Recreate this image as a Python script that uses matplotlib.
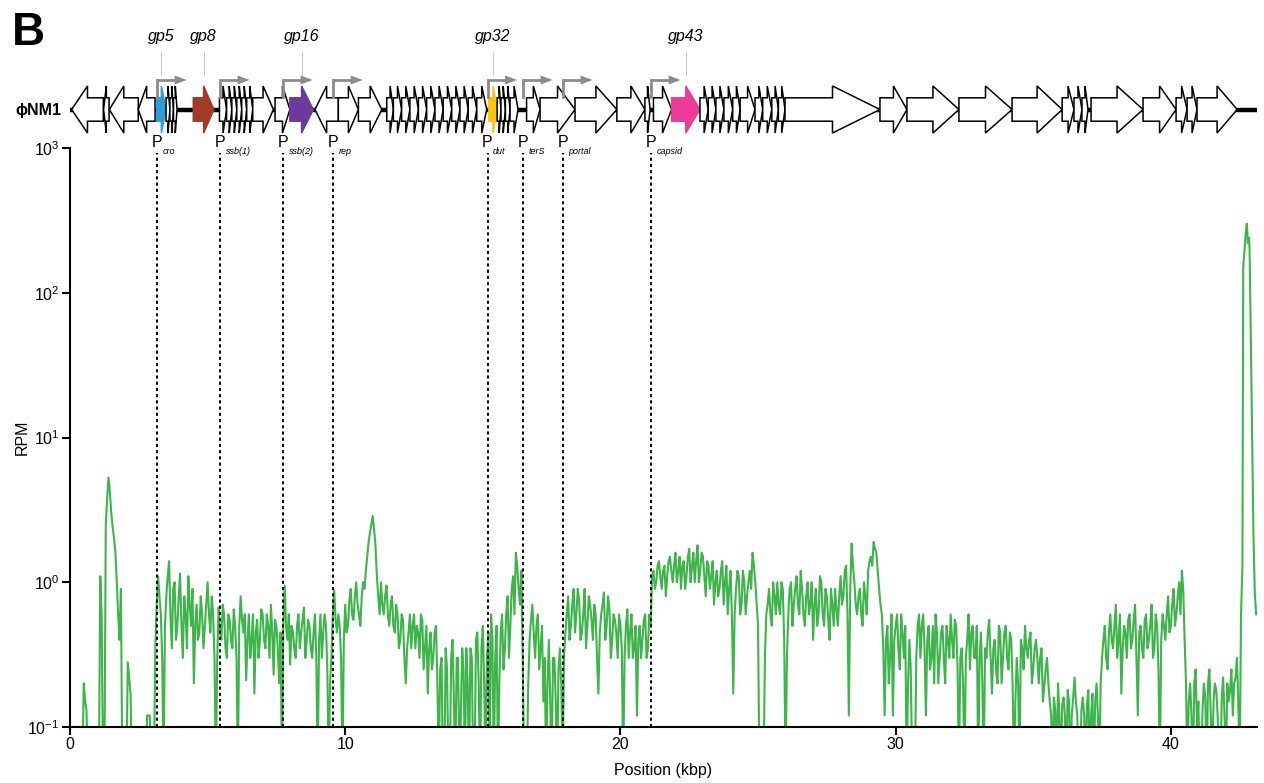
import numpy as np
import matplotlib
matplotlib.use("Agg")
import matplotlib.pyplot as plt
from matplotlib.patches import Polygon
from matplotlib.ticker import FixedLocator, NullLocator, LogFormatterMathtext

plt.rcParams['font.family'] = ['Liberation Sans', 'DejaVu Sans']
plt.rcParams['mathtext.fontset'] = 'custom'
plt.rcParams['mathtext.rm'] = 'Liberation Sans'
plt.rcParams['mathtext.it'] = 'Liberation Sans:italic'
plt.rcParams['mathtext.bf'] = 'Liberation Sans:bold'

GENOME_KBP = 43.13

# ---- read coverage (RPM) on 0.1 kbp bins, 0.0 .. 42.5 kbp ----
rpm_grid = [
    0.05, 0.05, 0.05, 0.05, 0.05, 0.2, 0.13, 0.05, 0.05, 0.05,      # 0.0
    0.05, 1.1, 0.05, 2.5, 5.3, 3.0, 2.0, 1.0, 0.4, 0.05,            # 1.0
    0.05, 0.28, 0.17, 0.05, 0.05, 0.05, 0.05, 0.05, 0.12, 0.12,     # 2.0
    0.05, 0.36, 1.1, 0.6, 0.05, 0.8, 1.4, 0.35, 1.0, 0.5,           # 3.0
    1.15, 0.3, 0.6, 1.1, 0.5, 0.2, 0.7, 0.45, 0.6, 0.5,             # 4.0
    1.0, 0.45, 0.6, 0.05, 0.67, 0.4, 0.6, 0.3, 0.55, 0.35,          # 5.0
    0.5, 0.05, 0.8, 0.45, 0.21, 0.6, 0.4, 0.17, 0.55, 0.4,          # 6.0
    0.6, 0.35, 0.5, 0.7, 0.23, 0.5, 0.2, 0.05, 0.95, 0.4,           # 7.0
    0.27, 0.45, 0.3, 0.6, 0.45, 0.67, 0.4, 0.5, 0.3, 0.6,           # 8.0
    0.05, 0.6, 0.45, 0.5, 0.05, 0.3, 0.88, 0.45, 0.5, 0.05,         # 9.0
    0.7, 0.5, 0.9, 0.55, 1.0, 0.6, 0.8, 0.9, 1.5, 2.2,              # 10.0
    2.87, 1.8, 0.8, 1.0, 0.6, 0.95, 0.5, 0.8, 0.45, 0.6,            # 11.0
    0.4, 0.55, 0.2, 0.45, 0.35, 0.6, 0.5, 0.3, 0.55, 0.35,          # 12.0
    0.17, 0.45, 0.3, 0.5, 0.05, 0.3, 0.05, 0.25, 0.05, 0.4,         # 13.0
    0.05, 0.3, 0.12, 0.25, 0.35, 0.05, 0.3, 0.05, 0.45, 0.05,       # 14.0
    0.5, 0.05, 0.45, 0.6, 0.05, 0.5, 0.2, 0.6, 0.35, 0.8,           # 15.0
    0.5, 1.1, 1.6, 0.9, 1.2, 0.05, 0.05, 0.4, 0.7, 0.3,             # 16.0
    0.6, 0.35, 0.15, 0.05, 0.4, 0.05, 0.3, 0.05, 0.35, 0.05,        # 17.0
    0.45, 0.8, 0.5, 0.9, 0.6, 0.75, 0.45, 0.9, 0.5, 0.7,            # 18.0
    0.4, 0.6, 0.17, 0.6, 0.85, 0.5, 0.65, 0.4, 0.55, 0.3,           # 19.0
    0.5, 0.05, 0.5, 0.3, 0.6, 0.35, 0.12, 0.5, 0.4, 0.6,            # 20.0
    0.35, 0.5, 1.2, 1.0, 1.4, 0.9, 1.3, 1.1, 1.5, 1.0,              # 21.0
    1.6, 1.2, 0.9, 1.4, 1.1, 1.7, 1.3, 1.0, 1.8, 1.2,               # 22.0
    1.5, 0.8, 1.3, 1.1, 0.7, 1.2, 0.9, 1.4, 1.0, 0.6,               # 23.0
    1.2, 0.17, 0.9, 1.1, 0.7, 1.0, 0.8, 1.2, 1.6, 1.0,              # 24.0
    0.5, 0.05, 0.05, 0.6, 0.9, 0.5, 0.8, 1.0, 0.6, 0.9,             # 25.0
    0.05, 0.6, 1.0, 0.7, 1.1, 0.6, 0.9, 0.5, 1.0, 0.7,              # 26.0
    0.4, 0.9, 0.6, 1.0, 0.5, 0.8, 0.4, 0.7, 0.9, 0.5,               # 27.0
    1.1, 0.8, 1.3, 0.12, 1.85, 1.0, 0.6, 0.9, 0.5, 0.8,             # 28.0
    1.2, 1.5, 1.9, 1.6, 0.9, 0.6, 0.12, 0.5, 0.3, 0.12,             # 29.0
    0.5, 0.35, 0.6, 0.3, 0.05, 0.4, 0.05, 0.05, 0.5, 0.3,           # 30.0
    0.6, 0.12, 0.5, 0.3, 0.2, 0.45, 0.3, 0.5, 0.2, 0.4,             # 31.0
    0.6, 0.3, 0.5, 0.05, 0.35, 0.05, 0.4, 0.25, 0.5, 0.3,           # 32.0
    0.05, 0.45, 0.05, 0.3, 0.55, 0.17, 0.4, 0.2, 0.45, 0.3,         # 33.0
    0.5, 0.25, 0.4, 0.05, 0.3, 0.05, 0.35, 0.5, 0.3, 0.45,          # 34.0
    0.25, 0.4, 0.2, 0.35, 0.19, 0.3, 0.15, 0.05, 0.13, 0.2,         # 35.0
    0.05, 0.16, 0.05, 0.15, 0.12, 0.22, 0.12, 0.05, 0.16, 0.05,     # 36.0
    0.18, 0.12, 0.05, 0.2, 0.05, 0.3, 0.5, 0.25, 0.6, 0.35,         # 37.0
    0.7, 0.4, 0.17, 0.5, 0.3, 0.6, 0.4, 0.7, 0.12, 0.5,             # 38.0
    0.3, 0.6, 0.4, 0.7, 0.35, 0.5, 0.05, 0.6, 0.4, 0.8,             # 39.0
    0.5, 0.9, 0.6, 1.0, 1.2, 0.4, 0.05, 0.2, 0.05, 0.25,            # 40.0
    0.15, 0.05, 0.2, 0.05, 0.25, 0.05, 0.2, 0.12, 0.05, 0.22,       # 41.0
    0.05, 0.15, 0.25, 0.2, 0.3, 0.05,                               # 42.0
]

# ---- read coverage at bin midpoints, 0.05 .. 42.45 kbp ----
rpm_mid = [
    0.05, 0.05, 0.05, 0.05, 0.05, 0.15, 0.05, 0.05, 0.05, 0.05,     # 0.05
    0.05, 0.6, 0.05, 3.8, 4.2, 2.4, 1.6, 0.6, 0.9, 0.05,            # 1.05
    0.05, 0.22, 0.05, 0.05, 0.05, 0.05, 0.05, 0.05, 0.12, 0.05,     # 2.05
    0.05, 0.7, 0.8, 0.3, 0.5, 1.1, 0.6, 0.9, 0.4, 0.8,              # 3.05
    0.5, 0.8, 0.35, 0.7, 0.9, 0.5, 0.4, 0.8, 0.35, 0.7,             # 4.05
    0.6, 0.8, 0.3, 0.3, 0.45, 0.7, 0.35, 0.6, 0.4, 0.65,            # 5.05
    0.3, 0.5, 0.55, 0.6, 0.4, 0.3, 0.6, 0.45, 0.3, 0.65,            # 6.05
    0.4, 0.6, 0.3, 0.45, 0.55, 0.35, 0.45, 0.5, 0.5, 0.6,           # 7.05
    0.5, 0.35, 0.5, 0.35, 0.55, 0.3, 0.55, 0.35, 0.45, 0.3,         # 8.05
    0.4, 0.3, 0.6, 0.25, 0.2, 0.6, 0.55, 0.6, 0.3, 0.4,             # 9.05
    0.45, 0.75, 0.6, 0.8, 0.7, 0.5, 1.0, 1.2, 1.9, 2.5,             # 10.05
    2.3, 1.1, 0.6, 0.7, 0.8, 0.6, 0.7, 0.5, 0.7, 0.35,              # 11.05
    0.6, 0.3, 0.35, 0.6, 0.5, 0.35, 0.45, 0.6, 0.25, 0.5,           # 12.05
    0.35, 0.25, 0.45, 0.2, 0.25, 0.05, 0.35, 0.05, 0.3, 0.15,       # 13.05
    0.3, 0.05, 0.35, 0.05, 0.2, 0.35, 0.05, 0.4, 0.2, 0.35,         # 14.05
    0.2, 0.3, 0.05, 0.4, 0.3, 0.05, 0.45, 0.25, 0.6, 0.3,           # 15.05
    0.9, 0.6, 1.3, 0.7, 0.3, 0.05, 0.2, 0.55, 0.45, 0.5,            # 16.05
    0.25, 0.5, 0.3, 0.2, 0.15, 0.3, 0.15, 0.25, 0.2, 0.3,           # 17.05
    0.6, 0.4, 0.7, 0.45, 0.9, 0.4, 0.6, 0.35, 0.8, 0.55,            # 18.05
    0.7, 0.3, 0.45, 0.7, 0.4, 0.8, 0.3, 0.6, 0.45, 0.6,             # 19.05
    0.35, 0.3, 0.65, 0.45, 0.3, 0.5, 0.4, 0.3, 0.55, 0.3,           # 20.05
    0.6, 1.1, 0.9, 1.3, 1.1, 1.2, 0.8, 1.4, 1.2, 1.3,               # 21.05
    1.0, 1.5, 1.3, 0.9, 1.5, 1.0, 1.6, 1.4, 1.0, 1.6,               # 22.05
    1.1, 1.4, 0.9, 1.4, 1.0, 0.8, 1.2, 0.7, 1.3, 0.9,               # 23.05
    0.6, 0.6, 1.2, 0.6, 1.2, 0.6, 1.0, 0.9, 1.3, 0.7,               # 24.05
    0.05, 0.05, 0.3, 0.7, 0.6, 1.0, 0.6, 0.7, 1.0, 0.4,             # 25.05
    0.3, 0.9, 0.5, 0.9, 0.7, 1.2, 0.6, 0.8, 0.6, 1.0,               # 26.05
    0.7, 0.5, 1.1, 0.6, 0.9, 0.55, 0.9, 0.5, 0.65, 0.8,             # 27.05
    0.7, 1.2, 0.6, 0.9, 1.3, 0.7, 0.8, 0.6, 1.0, 0.6,               # 28.05
    1.4, 1.3, 1.7, 1.2, 0.7, 0.35, 0.4, 0.2, 0.6, 0.4,              # 29.05
    0.6, 0.25, 0.45, 0.5, 0.2, 0.25, 0.05, 0.3, 0.6, 0.5,           # 30.05
    0.35, 0.4, 0.25, 0.5, 0.6, 0.2, 0.45, 0.3, 0.5, 0.3,            # 31.05
    0.4, 0.55, 0.25, 0.3, 0.2, 0.3, 0.6, 0.45, 0.3, 0.5,            # 32.05
    0.3, 0.2, 0.35, 0.45, 0.3, 0.35, 0.25, 0.5, 0.2, 0.45,          # 33.05
    0.3, 0.45, 0.2, 0.15, 0.2, 0.4, 0.25, 0.35, 0.4, 0.2,           # 34.05
    0.35, 0.3, 0.3, 0.15, 0.25, 0.2, 0.12, 0.16, 0.05, 0.12,        # 35.05
    0.14, 0.12, 0.18, 0.05, 0.16, 0.15, 0.05, 0.13, 0.12, 0.14,     # 36.05
    0.05, 0.17, 0.15, 0.12, 0.2, 0.4, 0.3, 0.45, 0.4, 0.5,          # 37.05
    0.3, 0.6, 0.35, 0.45, 0.55, 0.35, 0.55, 0.3, 0.45, 0.35,        # 38.05
    0.55, 0.35, 0.5, 0.3, 0.6, 0.25, 0.4, 0.5, 0.6, 0.45,           # 39.05
    0.7, 0.5, 0.8, 0.6, 0.9, 0.2, 0.15, 0.12, 0.2, 0.1,             # 40.05
    0.05, 0.13, 0.16, 0.2, 0.12, 0.15, 0.18, 0.05, 0.16, 0.12,      # 41.05
    0.2, 0.18, 0.12, 0.22, 0.15,                                    # 42.05
]

# terminal peak, sampled more finely
pos_tail = [42.55, 42.6, 42.63, 42.68, 42.72, 42.76, 42.8, 42.84,
            42.86, 42.9, 42.95, 43.0, 43.05, 43.1]
rpm_tail = [0.6, 1.3, 150, 200, 260, 300, 220, 240,
            200, 58, 10.7, 2.2, 0.84, 0.6]

pos_grid = np.round(np.arange(len(rpm_grid)) * 0.1, 2)
pos_mid = np.round(np.arange(len(rpm_mid)) * 0.1 + 0.05, 2)
position = np.concatenate([pos_grid, pos_mid, pos_tail])
rpm = np.concatenate([rpm_grid, rpm_mid, rpm_tail])
order = np.argsort(position, kind='stable')
position, rpm = position[order], rpm[order]

# ---- genome map ----
gene_start = [0.06, 1.22, 1.43, 2.48, 3.15, 3.49, 3.63, 3.76, 4.48,
              5.43, 5.69, 5.88, 6.06, 6.24, 6.42, 6.64, 7.45, 7.99,
              8.90, 9.75, 10.48,
              11.51, 11.75, 12.05, 12.35, 12.66, 12.96, 13.26, 13.56, 13.87,
              14.17, 14.47, 14.78,
              15.22, 15.52, 15.66, 15.82, 15.99,
              16.59, 17.08, 18.35, 19.87, 20.89, 21.20, 21.86,
              22.89, 23.19, 23.47, 23.76, 24.08, 24.35, 24.89, 25.17, 25.50, 25.74,
              25.98, 29.43, 30.41, 32.30, 34.23, 36.05, 36.48, 36.77,
              37.10, 38.99, 40.19, 40.59, 40.95]
gene_end = [1.21, 1.42, 2.48, 3.09, 3.49, 3.63, 3.76, 3.89, 5.23,
            5.69, 5.88, 6.06, 6.24, 6.42, 6.64, 7.39, 7.99, 8.84,
            9.75, 10.48, 11.33,
            11.75, 12.05, 12.35, 12.66, 12.96, 13.26, 13.56, 13.87, 14.17,
            14.47, 14.78, 15.14,
            15.52, 15.66, 15.82, 15.99, 16.28,
            17.08, 18.35, 19.87, 20.89, 21.08, 21.86, 22.89,
            23.19, 23.47, 23.76, 24.08, 24.35, 24.89, 25.17, 25.50, 25.74, 25.98,
            29.43, 30.41, 32.30, 34.23, 36.05, 36.48, 36.77, 36.99,
            38.99, 40.19, 40.59, 40.95, 42.41]
gene_strand = [-1, -1, -1, -1] + [1] * 14 + [-1] + [1] * (len(gene_start) - 19)

highlight_index = [4, 8, 17, 33, 44]
highlight_name = ['gp5', 'gp8', 'gp16', 'gp32', 'gp43']
highlight_color = ['#2e9cd7', '#a33b22', '#6b3a9c', '#ffc20e', '#ec3c98']

promoter_pos = [3.16, 5.45, 7.74, 9.56, 15.17, 16.46, 17.91, 21.11]
promoter_name = ['cro', 'ssb(1)', 'ssb(2)', 'rep', 'dut', 'terS', 'portal', 'capsid']

GREEN = '#3db54a'
GRAY_ARROW = '#8c8c8c'

fig = plt.figure(figsize=(12.64, 7.83), dpi=100)
W, H = 1264.0, 783.0

# main coverage axes
ax = fig.add_axes([70 / W, (H - 727) / H, (1257 - 70) / W, (727 - 148) / H])
ax.plot(position, rpm, color=GREEN, lw=1.5, zorder=3)
ax.set_yscale('log')
ax.set_ylim(0.1, 1000)
ax.set_xlim(0, GENOME_KBP)
ax.yaxis.set_major_locator(FixedLocator([0.1, 1, 10, 100, 1000]))
ax.yaxis.set_major_formatter(LogFormatterMathtext())
ax.yaxis.set_minor_locator(NullLocator())
ax.xaxis.set_major_locator(FixedLocator([0, 10, 20, 30, 40]))
for s in ['top', 'right']:
    ax.spines[s].set_visible(False)
for s in ['left', 'bottom']:
    ax.spines[s].set_linewidth(1.5)
    ax.spines[s].set_zorder(5)
ax.tick_params(axis='both', which='major', direction='out', length=5.5,
               width=1.5, labelsize=11.5, pad=2, colors='black')
ax.set_xlabel('Position (kbp)', fontsize=11.5)
ax.set_ylabel('RPM', fontsize=11.5)
ax.xaxis.set_label_coords(0.5, -(770 - 727) / 579.0)
ax.yaxis.set_label_coords(-(70 - 22) / 1187.0, 0.5)
ax.xaxis.label.set_va('center')
ax.yaxis.label.set_va('center')

# promoter guide lines
top_val = 10 ** (3 - 5 / 144.75)
for p in promoter_pos:
    ax.plot([p, p], [0.1, top_val], color='black', lw=1.4,
            linestyle=(0, (1.6, 1.6)), zorder=4, clip_on=False)

# genome map axes (y in pixel rows from the top of the figure)
axm = fig.add_axes([70 / W, (H - 160) / H, (1257 - 70) / W, 160 / H])
axm.set_xlim(0, GENOME_KBP)
axm.set_ylim(160, 0)
axm.axis('off')

cy = 109.5
body = 11.7
head = 23.5
axm.plot([0, GENOME_KBP], [cy, cy], color='black', lw=3.2, zorder=1,
         solid_capstyle='butt')

colors = ['white'] * len(gene_start)
for idx, c in zip(highlight_index, highlight_color):
    colors[idx] = c

for s, e, d, c in zip(gene_start, gene_end, gene_strand, colors):
    L = e - s
    hl = L / 2.0
    if d > 0:
        b = e - hl
        pts = [(s, cy - body), (b, cy - body), (b, cy - head), (e, cy),
               (b, cy + head), (b, cy + body), (s, cy + body)]
    else:
        b = s + hl
        pts = [(e, cy - body), (b, cy - body), (b, cy - head), (s, cy),
               (b, cy + head), (b, cy + body), (e, cy + body)]
    edge = 'black' if c == 'white' else c
    axm.add_patch(Polygon(pts, closed=True, facecolor=c, edgecolor=edge,
                          lw=1.1, joinstyle='miter', zorder=2))

# bent promoter arrows with labels
for p, name in zip(promoter_pos, promoter_name):
    axm.plot([p, p, p + 0.66], [97, 80, 80], color=GRAY_ARROW, lw=2.0,
             solid_joinstyle='miter', zorder=3)
    axm.add_patch(Polygon([(p + 0.64, 75.5), (p + 1.08, 80), (p + 0.64, 84.5)],
                          closed=True, facecolor=GRAY_ARROW, edgecolor='none',
                          zorder=3))
    axm.text(p, 142.5, 'P', ha='center', va='center', fontsize=11.5)
    axm.text(p + 0.2, 151.5, name, ha='left', va='center', fontsize=6.5,
             style='italic')

# highlighted gene labels
for idx, name in zip(highlight_index, highlight_name):
    xc = (gene_start[idx] + gene_end[idx]) / 2.0
    axm.plot([xc, xc], [52, 75], color='#cccccc', lw=0.8, zorder=0)
    axm.text(xc, 37, name, ha='center', va='center', fontsize=11.5,
             style='italic')

axm.text(-0.3, 110, 'ϕNM1', ha='right', va='center', fontsize=11.5,
         weight='bold')

fig.text(12 / W, 1 - 11 / H, 'B', fontsize=33, weight='bold', va='top',
         ha='left')

fig.savefig('out.png', dpi=100)
